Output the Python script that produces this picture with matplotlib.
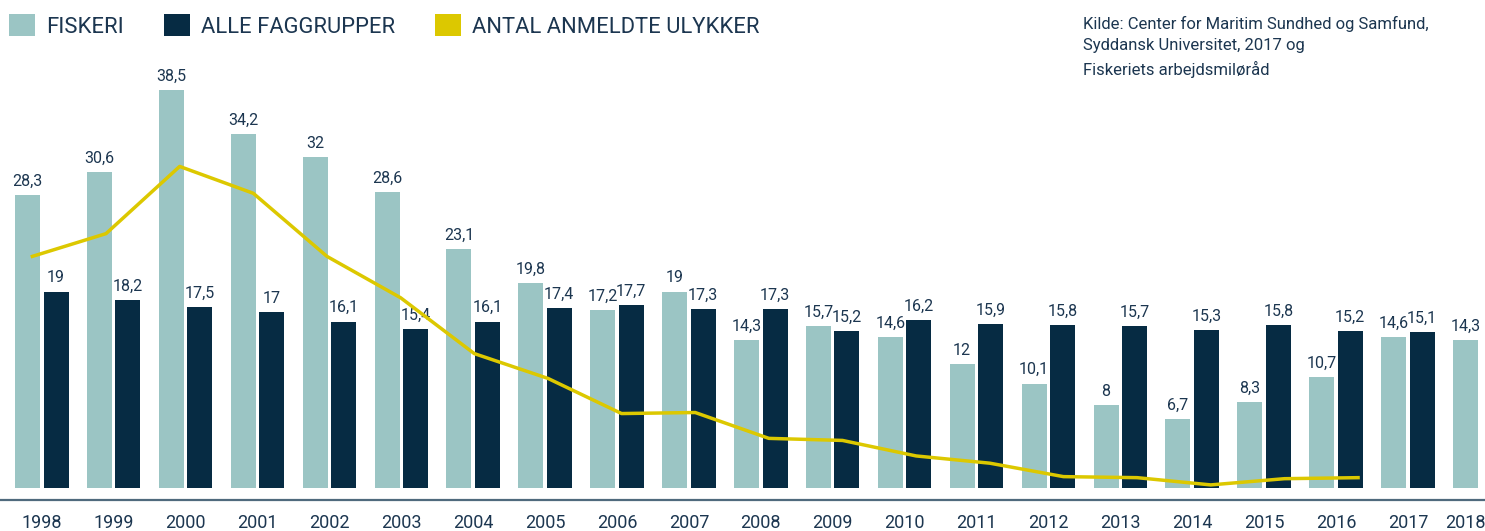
import numpy as np
import matplotlib
matplotlib.use("Agg")
import matplotlib.pyplot as plt
from matplotlib.patches import Patch
from matplotlib import font_manager

# ---------------- data ----------------
years = [1998, 1999, 2000, 2001, 2002, 2003, 2004, 2005, 2006, 2007, 2008,
         2009, 2010, 2011, 2012, 2013, 2014, 2015, 2016, 2017, 2018]
fiskeri = [28.3, 30.6, 38.5, 34.2, 32.0, 28.6, 23.1, 19.8, 17.2, 19.0, 14.3,
           15.7, 14.6, 12.0, 10.1, 8.0, 6.7, 8.3, 10.7, 14.6, 14.3]
alle_faggrupper = [19.0, 18.2, 17.5, 17.0, 16.1, 15.4, 16.1, 17.4, 17.7, 17.3, 17.3,
                   15.2, 16.2, 15.9, 15.8, 15.7, 15.3, 15.8, 15.2, 15.1, np.nan]
# Number of reported accidents (no axis in original; index read in bar units)
ulykker_years = years[:19]
ulykker = [22.4, 24.6, 31.1, 28.5, 22.4, 18.4, 13.0, 10.6, 7.2, 7.3, 4.8,
           4.6, 3.1, 2.4, 1.1, 1.0, 0.3, 0.9, 1.0]

legend_labels = ["FISKERI", "ALLE FAGGRUPPER", "ANTAL ANMELDTE ULYKKER"]
source_text = ("Kilde: Center for Maritim Sundhed og Samfund,\n"
               "Syddansk Universitet, 2017 og\n"
               "Fiskeriets arbejdsmiløråd")

# ---------------- style ----------------
C_FISK = "#9bc5c4"
C_ALLE = "#062b43"
C_LINE = "#dcc800"
C_TEXT = "#1c3650"
C_AXIS = "#4f6a7d"

available = {f.name for f in font_manager.fontManager.ttflist}
main_font = "Roboto" if "Roboto" in available else "DejaVu Sans"
plt.rcParams["font.family"] = [main_font, "DejaVu Sans"]

W, H = 1485, 531
fig = plt.figure(figsize=(W / 100, H / 100), dpi=100)
ax = fig.add_axes([0, 31 / H, 1, 500 / H])

ppu = 10.34  # pixels per unit
ax.set_ylim(-12 / ppu, 488 / ppu)
ax.set_xlim(-27.5 / 71.9, (W - 27.5) / 71.9)

x = np.arange(len(years))
bw = 25 / 71.9
off = 28.5 / 71.9
fk = np.array(fiskeri)
al = np.array(alle_faggrupper)
ax.bar(x, fk, width=bw, color=C_FISK, zorder=2)
ax.bar(x + off, al, width=bw, color=C_ALLE, zorder=2)


def fmt(v):
    s = f"{v:.1f}"
    if s.endswith(".0"):
        s = s[:-2]
    return s.replace(".", ",")


for xi, v in zip(x, fk):
    ax.annotate(fmt(v), (xi, v), xytext=(0, 4.5), textcoords="offset points",
                ha="center", va="bottom", fontsize=11.5, color=C_TEXT, zorder=4)
for xi, v in zip(x + off, al):
    if not np.isnan(v):
        ax.annotate(fmt(v), (xi, v), xytext=(0, 4.5), textcoords="offset points",
                    ha="center", va="bottom", fontsize=11.5, color=C_TEXT, zorder=4)

tick_pos = [xi + off / 2 if not np.isnan(a) else xi for xi, a in zip(x, al)]
ax.set_xticks(tick_pos)
ax.set_xticklabels([str(y) for y in years], fontsize=13, color=C_TEXT)
ax.tick_params(axis="x", length=0, pad=10)
ax.set_yticks([])
for s in ["left", "right", "top"]:
    ax.spines[s].set_visible(False)
ax.spines["bottom"].set_color(C_AXIS)
ax.spines["bottom"].set_linewidth(1.6)

# accident line on twin x-axis
ax2 = ax.twiny()
sp = 73.65
x0px = 106 - sp
ax2.set_xlim(-x0px / sp, (W - x0px) / sp)
ax2.plot(np.arange(len(ulykker)), ulykker, color=C_LINE, lw=2.5, zorder=3)
ax2.set_axis_off()

# legend
handles = [Patch(facecolor=C_FISK), Patch(facecolor=C_ALLE), Patch(facecolor=C_LINE)]
leg = fig.legend(handles, legend_labels, loc="center left",
                 bbox_to_anchor=(9 / W, 1 - 26 / H), ncol=3, frameon=False,
                 fontsize=15.8, handlelength=1.17, handleheight=1.17,
                 handletextpad=0.5, columnspacing=1.85, borderaxespad=0,
                 borderpad=0, labelcolor=C_TEXT)

fig.text(1083 / W, 1 - 16 / H, source_text, ha="left", va="top",
         fontsize=12, color=C_TEXT, linespacing=1.52)

fig.savefig("out.png", dpi=100)
